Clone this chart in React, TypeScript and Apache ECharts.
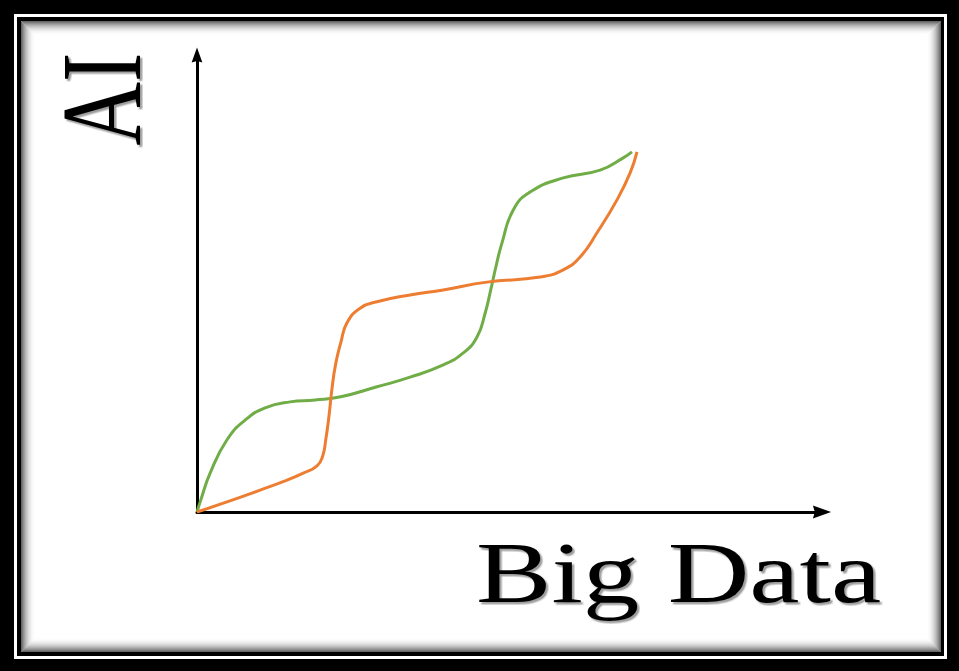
import React, { useEffect, useRef } from "react";
import * as echarts from "echarts";

// Curve values (x: Big Data, y: AI), axis range 0..100
const greenX = [0, 0.6, 2.1, 4.8, 7.7, 10.9, 14.9, 18.9, 23.0, 28.8, 34.1, 39.4, 42.6, 44.8, 46.1, 47.0, 47.9, 48.8, 50.6, 53.3, 58.6, 64.5, 68.2, 69.6];
const greenY = [0, 2.6, 8.5, 15.8, 20.1, 22.8, 24.1, 24.5, 25.2, 27.4, 29.5, 32.2, 34.8, 38.3, 43.5, 48.6, 54.1, 58.9, 66.1, 70.0, 73.1, 74.8, 77.5, 78.8];

const orangeX = [0, 4.8, 10.1, 14.1, 17.0, 19.2, 20.1, 20.6, 21.1, 21.6, 22.2, 23.0, 24.0, 26.1, 28.8, 34.1, 39.4, 46.4, 54.9, 58.6, 61.3, 64.0, 67.2, 69.3, 70.4];
const orangeY = [0, 2.2, 4.8, 6.8, 8.5, 10.1, 12.2, 15.8, 20.8, 27.0, 32.5, 37.0, 41.4, 44.6, 46.0, 47.5, 48.6, 50.3, 51.4, 53.0, 55.8, 61.1, 68.3, 74.2, 78.8];

const xAxisTitle = "Big Data";
const yAxisTitle = "AI";

const serif = "'Liberation Serif', 'Times New Roman', serif";

export default function App() {
  const ref = useRef<HTMLDivElement>(null);

  useEffect(() => {
    document.body.style.margin = "0";
    if (!ref.current) return;
    const chart = echarts.init(ref.current, null, { renderer: "svg" });

    const shadowRects: any[] = [];
    const n = 14;
    for (let i = 0; i < n; i++) {
      const a = 0.6 * Math.pow(1 - i / n, 2);
      shadowRects.push({
        type: "rect",
        z: -5,
        silent: true,
        shape: { x: 21.5 + i, y: 21.5 + i, width: 919 - 2 * i, height: 630 - 2 * i },
        style: { fill: "none", stroke: `rgba(0,0,0,${a.toFixed(3)})`, lineWidth: 1 },
      });
    }

    const arrowPath = "path://M5,0 L10,14 L5,12.5 L0,14 Z";

    const textShadows = (base: any) => {
      const out: any[] = [];
      const offs = [
        [2, 2, 0.18],
        [3, 3, 0.1],
        [1, 3, 0.08],
        [3, 1, 0.08],
      ];
      offs.forEach(([dx, dy, a]) => {
        out.push({
          ...base,
          z: 3,
          x: base.x + dx,
          y: base.y + dy,
          style: { ...base.style, fill: `rgba(0,0,0,${a})` },
        });
      });
      out.push(base);
      return out;
    };

    const bigData = {
      type: "text",
      z: 4,
      x: 476,
      y: 573,
      scaleX: 1.3,
      style: {
        text: xAxisTitle,
        font: `87px ${serif}`,
        fill: "#000",
        textAlign: "left",
        textVerticalAlign: "middle",
      },
    };
    const ai = {
      type: "text",
      z: 4,
      x: 101,
      y: 99,
      rotation: Math.PI / 2,
      scaleY: 1.3,
      style: {
        text: yAxisTitle,
        font: `88px ${serif}`,
        fill: "#000",
        textAlign: "center",
        textVerticalAlign: "middle",
      },
    };

    chart.setOption({
      animation: false,
      backgroundColor: "#000",
      grid: { left: 197, top: 55, width: 625, height: 457, containLabel: false },
      xAxis: {
        type: "value",
        min: 0,
        max: 100,
        z: 3,
        axisLine: {
          show: true,
          onZero: false,
          symbol: ["none", arrowPath],
          symbolSize: [13, 20],
          lineStyle: { color: "#000", width: 3 },
        },
        axisTick: { show: false },
        axisLabel: { show: false },
        splitLine: { show: false },
      },
      yAxis: {
        type: "value",
        min: 0,
        max: 100,
        z: 3,
        axisLine: {
          show: true,
          onZero: false,
          symbol: ["none", arrowPath],
          symbolSize: [17, 15],
          lineStyle: { color: "#000", width: 3 },
        },
        axisTick: { show: false },
        axisLabel: { show: false },
        splitLine: { show: false },
      },
      series: [
        {
          type: "line",
          name: "green",
          z: 5,
          data: greenX.map((x, i) => [x, greenY[i]]),
          showSymbol: false,
          smooth: 0.5,
          lineStyle: { color: "#70AD47", width: 3 },
        },
        {
          type: "line",
          name: "orange",
          z: 6,
          data: orangeX.map((x, i) => [x, orangeY[i]]),
          showSymbol: false,
          smooth: 0.5,
          lineStyle: { color: "#ED7D31", width: 3 },
        },
      ],
      graphic: {
        elements: [
          { type: "rect", z: -10, silent: true, shape: { x: 14, y: 14, width: 933, height: 645 }, style: { fill: "#fff" } },
          { type: "rect", z: -9, silent: true, shape: { x: 17, y: 17, width: 927, height: 639 }, style: { fill: "#000" } },
          { type: "rect", z: -8, silent: true, shape: { x: 21, y: 21, width: 920, height: 631 }, style: { fill: "#fff" } },
          ...shadowRects,
          ...textShadows(bigData),
          ...textShadows(ai),
        ],
      },
    });

    return () => chart.dispose();
  }, []);

  return <div ref={ref} style={{ width: 959, height: 671 }} />;
}
